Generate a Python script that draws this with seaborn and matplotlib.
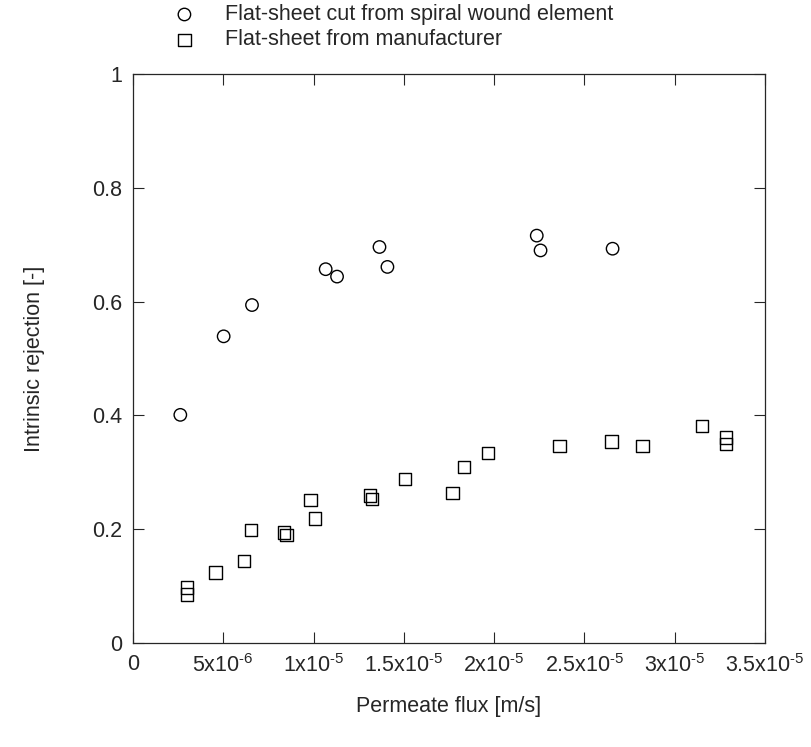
import matplotlib
matplotlib.use("Agg")
import matplotlib.pyplot as plt
from matplotlib.ticker import FuncFormatter, MultipleLocator
import seaborn as sns
import pandas as pd

# Flat-sheet cut from spiral wound element
spiral_flux = [2.62e-6, 5.02e-6, 6.59e-6, 10.67e-6, 11.30e-6, 13.65e-6, 14.09e-6,
               22.36e-6, 22.57e-6, 26.56e-6]
spiral_rej = [0.401, 0.539, 0.594, 0.657, 0.644, 0.696, 0.661, 0.716, 0.690, 0.693]

# Flat-sheet from manufacturer
manuf_flux = [2.98e-6, 2.98e-6, 4.57e-6, 6.15e-6, 6.54e-6, 8.37e-6, 8.51e-6, 9.83e-6,
              10.07e-6, 13.12e-6, 13.25e-6, 15.07e-6, 17.69e-6, 18.34e-6, 19.66e-6,
              23.63e-6, 26.49e-6, 28.22e-6, 31.51e-6, 32.84e-6, 32.84e-6]
manuf_rej = [0.0975, 0.0854, 0.124, 0.144, 0.199, 0.194, 0.190, 0.251, 0.219, 0.259,
             0.253, 0.288, 0.264, 0.309, 0.334, 0.346, 0.354, 0.346, 0.381, 0.361, 0.350]

xtick_labels = ["0", "5x10$^{\u20106}$", "1x10$^{\u20105}$", "1.5x10$^{\u20105}$",
                "2x10$^{\u20105}$", "2.5x10$^{\u20105}$", "3x10$^{\u20105}$",
                "3.5x10$^{\u20105}$"]

sns.set_style("ticks")
plt.rcParams['font.family'] = ['Liberation Sans', 'DejaVu Sans']
plt.rcParams['mathtext.fontset'] = 'custom'
plt.rcParams['mathtext.rm'] = 'Liberation Sans'
plt.rcParams['mathtext.it'] = 'Liberation Sans:italic'
plt.rcParams['mathtext.default'] = 'regular'

df_spiral = pd.DataFrame({'flux': spiral_flux, 'rej': spiral_rej})
df_manuf = pd.DataFrame({'flux': manuf_flux, 'rej': manuf_rej})

fig = plt.figure(figsize=(8.12, 7.47), dpi=100)
ax = fig.add_axes([0.1638, 0.1392, 0.7783, 0.7617])

sns.scatterplot(data=df_spiral, x='flux', y='rej', marker='o', s=105,
                facecolor='none', edgecolor='black', linewidth=1.0, ax=ax,
                label='Flat-sheet cut from spiral wound element')
sns.scatterplot(data=df_manuf, x='flux', y='rej', marker='s', s=135,
                facecolor='none', edgecolor='black', linewidth=1.0, ax=ax,
                label='Flat-sheet from manufacturer')

ax.set_xlim(0, 3.5e-5)
ax.set_ylim(0, 1)
ax.xaxis.set_major_locator(MultipleLocator(5e-6))
ax.yaxis.set_major_locator(MultipleLocator(0.2))
ax.xaxis.set_major_formatter(FuncFormatter(lambda v, p: xtick_labels[int(round(v / 5e-6))]
                                           if 0 <= int(round(v / 5e-6)) < len(xtick_labels) else ""))
ax.yaxis.set_major_formatter(FuncFormatter(lambda v, p: "0" if abs(v) < 1e-9 else
                                           ("1" if abs(v - 1) < 1e-9 else f"{v:.1f}")))
ax.tick_params(direction='in', length=8, width=0.8, top=True, right=True,
               labelsize=15.5, pad=8)
for sp in ax.spines.values():
    sp.set_linewidth(0.9)

ax.set_xlabel("Permeate flux [m/s]", fontsize=15.5, labelpad=14)
ax.set_ylabel("Intrinsic rejection [-]", fontsize=15.5, labelpad=34)

handles, labels = ax.get_legend_handles_labels()
for h in handles:
    h.set_sizes([80])
ax.legend_.remove()
fig.legend(handles, labels, loc='upper left', bbox_to_anchor=(0.19, 1.006),
           frameon=False, fontsize=15.5, handletextpad=0.9, labelspacing=0.2,
           borderaxespad=0)

fig.savefig("out.png", dpi=100)
